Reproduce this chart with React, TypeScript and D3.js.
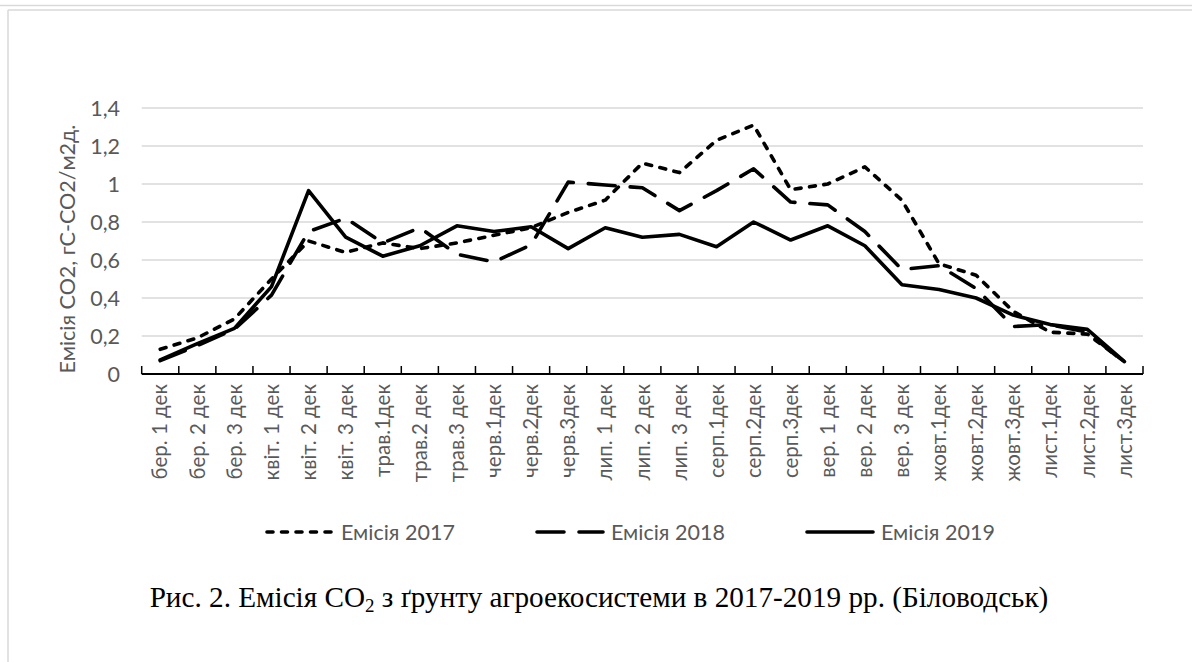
import React from "react";
import * as d3 from "d3";

const categories = [
  "бер. 1 дек", "бер. 2 дек", "бер. 3 дек",
  "квіт. 1 дек", "квіт. 2 дек", "квіт. 3 дек",
  "трав.1дек", "трав.2 дек", "трав.3 дек",
  "черв.1дек", "черв.2дек", "черв.3дек",
  "лип. 1 дек", "лип. 2 дек", "лип. 3 дек",
  "серп.1дек", "серп.2дек", "серп.3дек",
  "вер. 1 дек", "вер. 2 дек", "вер. 3 дек",
  "жовт.1дек", "жовт.2дек", "жовт.3дек",
  "лист.1дек", "лист.2дек", "лист.3дек",
];

const emission2017 = [0.13, 0.19, 0.29, 0.5, 0.7, 0.64, 0.69, 0.66, 0.69, 0.73, 0.77, 0.85, 0.915, 1.11, 1.06, 1.23, 1.31, 0.97, 1.0, 1.09, 0.915, 0.58, 0.52, 0.33, 0.22, 0.21, 0.065];
const emission2018 = [0.07, 0.15, 0.235, 0.415, 0.75, 0.82, 0.69, 0.77, 0.63, 0.59, 0.68, 1.01, 0.995, 0.98, 0.86, 0.965, 1.08, 0.905, 0.89, 0.75, 0.55, 0.57, 0.45, 0.25, 0.26, 0.22, 0.06];
const emission2019 = [0.074, 0.16, 0.24, 0.46, 0.965, 0.72, 0.62, 0.675, 0.78, 0.75, 0.775, 0.66, 0.77, 0.72, 0.735, 0.67, 0.8, 0.705, 0.78, 0.675, 0.47, 0.445, 0.4, 0.31, 0.26, 0.235, 0.065];

const yTicks = [0, 0.2, 0.4, 0.6, 0.8, 1, 1.2, 1.4];
const yTickLabels = ["0", "0,2", "0,4", "0,6", "0,8", "1", "1,2", "1,4"];

const seriesNames = ["Емісія 2017", "Емісія 2018", "Емісія 2019"];

const W = 1192;
const H = 662;
const FONT = "Lato, 'Noto Sans', 'Open Sans', sans-serif";
const GREY = "#595959";

export default function App() {
  const x = d3.scaleBand<string>().domain(categories).range([141.7, 1143]).padding(0);
  const y = d3.scaleLinear().domain([0, 1.4]).range([374, 108]);
  const cx = (i: number) => (x(categories[i]) as number) + x.bandwidth() / 2;

  const line = d3
    .line<number>()
    .x((_, i) => cx(i))
    .y((d) => y(d));

  const series = [
    { name: seriesNames[0], data: emission2017, dash: "6,8.5", cap: "round" },
    { name: seriesNames[1], data: emission2018, dash: "27,15", cap: "round" },
    { name: seriesNames[2], data: emission2019, dash: "none", cap: "round" },
  ];

  const boundaries = d3.range(categories.length + 1).map((i) =>
    i < categories.length ? (x(categories[i]) as number) : 1143
  );

  const legendX = [265, 535, 805];
  const legendY = 532;

  return (
    <svg
      width={W}
      height={H}
      style={{ position: "absolute", left: 0, top: 0, background: "#fff" }}
    >
      <rect x={0} y={0} width={W} height={H} fill="#fff" />
      {/* frame */}
      <line x1={0} x2={W} y1={5.5} y2={5.5} stroke="#d9d9d9" strokeWidth={1.5} />
      <line x1={8} x2={W} y1={10} y2={10} stroke="#d9d9d9" strokeWidth={1.5} />
      <line x1={8} x2={8} y1={10} y2={H} stroke="#d9d9d9" strokeWidth={1.5} />

      {/* gridlines */}
      {yTicks.slice(1).map((t) => (
        <line key={t} x1={141.7} x2={1143} y1={y(t)} y2={y(t)} stroke="#d9d9d9" strokeWidth={1.3} />
      ))}

      {/* y tick labels */}
      {yTicks.map((t, i) => (
        <text
          key={t}
          x={120}
          y={y(t)}
          dy="0.35em"
          textAnchor="end"
          fontFamily={FONT}
          fontSize={21.5}
          fill={GREY}
        >
          {yTickLabels[i]}
        </text>
      ))}

      {/* y axis title */}
      <text
        transform={`translate(67,${249}) rotate(-90)`}
        textAnchor="middle"
        dy="0.35em"
        fontFamily={FONT}
        fontSize={21.5}
        fill={GREY}
      >
        Емісія CO2, гС-CO2/м2д.
      </text>

      {/* series */}
      {series.map((s) => (
        <path
          key={s.name}
          d={line(s.data) as string}
          fill="none"
          stroke="#000"
          strokeWidth={3.6}
          strokeDasharray={s.dash}
          strokeLinecap={s.cap as any}
          strokeLinejoin="round"
        />
      ))}

      {/* x axis */}
      <line x1={141.7} x2={1143} y1={y(0)} y2={y(0)} stroke="#000" strokeWidth={2.2} />
      {boundaries.map((b, i) => (
        <line key={i} x1={b} x2={b} y1={y(0)} y2={y(0) - 8} stroke="#000" strokeWidth={1.5} />
      ))}

      {/* x labels */}
      {categories.map((c, i) => (
        <text
          key={c}
          transform={`translate(${cx(i)},${384}) rotate(-90)`}
          textAnchor="end"
          dy="0.35em"
          fontFamily={FONT}
          fontSize={20.5}
          fill={GREY}
        >
          {c}
        </text>
      ))}

      {/* legend */}
      {series.map((s, i) => (
        <g key={s.name}>
          <line
            x1={legendX[i] + 2}
            x2={legendX[i] + 68}
            y1={legendY}
            y2={legendY}
            stroke="#000"
            strokeWidth={3.6}
            strokeDasharray={s.dash}
            strokeLinecap={s.cap as any}
          />
          <text
            x={legendX[i] + 76}
            y={legendY}
            dy="0.35em"
            fontFamily={FONT}
            fontSize={21.5}
            fill={GREY}
          >
            {s.name}
          </text>
        </g>
      ))}

      {/* caption */}
      <text
        x={599}
        y={607}
        textAnchor="middle"
        fontFamily="'Liberation Serif', 'Times New Roman', serif"
        fontSize={29.2}
        fill="#000"
      >
        Рис. 2. Емісія CO
        <tspan fontSize={19} dy={5}>2</tspan>
        <tspan dy={-5}> з ґрунту агроекосистеми в 2017-2019 рр. (Біловодськ)</tspan>
      </text>
    </svg>
  );
}
